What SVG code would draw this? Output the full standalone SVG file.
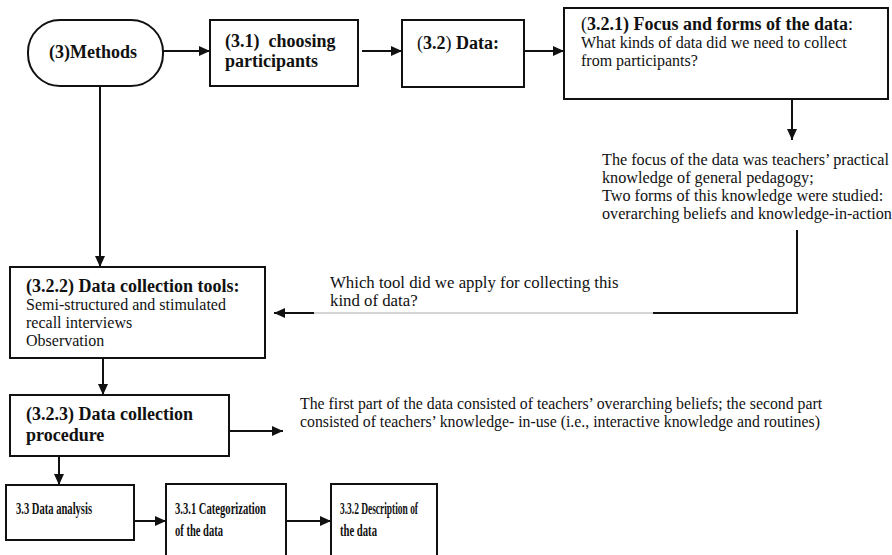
<svg xmlns="http://www.w3.org/2000/svg" width="892" height="555" viewBox="0 0 892 555">
<defs>
<marker id="ah" markerWidth="11" markerHeight="10" refX="11" refY="5" orient="auto" markerUnits="userSpaceOnUse">
<path d="M0,0 L11,5 L0,10 Z" fill="#111"/>
</marker>
<style>
.box{fill:#fff;stroke:#111;stroke-width:2}
.b{font-weight:bold;font-size:18px;fill:#111}
.r{font-size:16px;fill:#111}
.c{font-weight:bold;font-size:17px;fill:#111}
.ln{stroke:#111;stroke-width:2;fill:none}
.thin{stroke:#aaa;stroke-width:1;fill:none}
</style>
</defs>
<rect width="892" height="555" fill="#fff"/>
<g id="connectors">
<line class="ln" x1="163" y1="51" x2="210" y2="51" marker-end="url(#ah)"/>
<line class="ln" x1="362" y1="51" x2="402" y2="51" marker-end="url(#ah)"/>
<line class="ln" x1="524" y1="51" x2="564" y2="51" marker-end="url(#ah)"/>
<line class="ln" x1="792" y1="99" x2="792" y2="140" marker-end="url(#ah)"/>
<polyline class="ln" points="797,230 797,313 653,313"/>
<line class="thin" x1="653" y1="313" x2="314" y2="313"/>
<line class="ln" x1="314" y1="313" x2="274" y2="313" marker-end="url(#ah)"/>
<line class="ln" x1="100" y1="86" x2="100" y2="267" marker-end="url(#ah)"/>
<line class="ln" x1="103" y1="358" x2="103" y2="395" marker-end="url(#ah)"/>
<line class="ln" x1="229" y1="431" x2="283" y2="431" marker-end="url(#ah)"/>
<line class="ln" x1="59" y1="456" x2="59" y2="485" marker-end="url(#ah)"/>
<line class="ln" x1="134" y1="521" x2="166" y2="521" marker-end="url(#ah)"/>
<line class="ln" x1="287" y1="521" x2="331" y2="521" marker-end="url(#ah)"/>
</g>
<g id="n_methods">
<rect class="box" x="28" y="20" width="135" height="66" rx="32" ry="32"/>
<text class="b" font-family="'Liberation Serif', serif" x="49" y="58">(3)Methods</text>
</g>
<g id="n_31">
<rect class="box" x="210" y="20" width="148" height="66"/>
<text class="b" font-family="'Liberation Serif', serif" x="225" y="47" xml:space="preserve">(3.1)  choosing</text>
<text class="b" font-family="'Liberation Serif', serif" x="225" y="67">participants</text>
</g>
<g id="n_32">
<rect class="box" x="402" y="20" width="122" height="67"/>
<text class="b" font-family="'Liberation Serif', serif" x="417" y="49"><tspan font-weight="normal">(</tspan>3.2<tspan font-weight="normal">)</tspan> Data:</text>
</g>
<g id="n_321">
<rect class="box" x="564" y="8" width="324" height="91"/>
<text class="b" font-family="'Liberation Serif', serif" x="581" y="30"><tspan font-weight="normal">(</tspan>3.2.1) Focus and forms of the data<tspan font-weight="normal">:</tspan></text>
<text class="r" font-family="'Liberation Serif', serif" x="581" y="48">What kinds of data did we need to collect</text>
<text class="r" font-family="'Liberation Serif', serif" x="581" y="66">from participants?</text>
</g>
<g id="n_focus">
<text class="r" font-family="'Liberation Serif', serif" style="font-size:16.2px" x="602" y="165">The focus of the data was teachers’ practical</text>
<text class="r" font-family="'Liberation Serif', serif" style="font-size:16.2px" x="602" y="183">knowledge of general pedagogy;</text>
<text class="r" font-family="'Liberation Serif', serif" style="font-size:16.2px" x="602" y="201">Two forms of this knowledge were studied:</text>
<text class="r" font-family="'Liberation Serif', serif" style="font-size:16.2px" x="602" y="219">overarching beliefs and knowledge-in-action</text>
</g>
<g id="n_which">
<text class="r" font-family="'Liberation Serif', serif" style="font-size:16.8px" x="330" y="288">Which tool did we apply for collecting this</text>
<text class="r" font-family="'Liberation Serif', serif" style="font-size:16.8px" x="330" y="306">kind of data?</text>
</g>
<g id="n_322">
<rect class="box" x="10" y="267" width="255" height="91"/>
<text class="b" font-family="'Liberation Serif', serif" x="26" y="292">(3.2.2) Data collection tools:</text>
<text class="r" font-family="'Liberation Serif', serif" x="26" y="310">Semi-structured and stimulated</text>
<text class="r" font-family="'Liberation Serif', serif" x="26" y="328">recall interviews</text>
<text class="r" font-family="'Liberation Serif', serif" x="26" y="346">Observation</text>
</g>
<g id="n_323">
<rect class="box" x="10" y="395" width="219" height="61"/>
<text class="b" font-family="'Liberation Serif', serif" x="26" y="420">(3.2.3) Data collection</text>
<text class="b" font-family="'Liberation Serif', serif" x="26" y="441">procedure</text>
</g>
<g id="n_first">
<text class="r" font-family="'Liberation Serif', serif" style="font-size:15.8px" x="300" y="409">The first part of the data consisted of teachers’ overarching beliefs; the second part</text>
<text class="r" font-family="'Liberation Serif', serif" style="font-size:15.8px" x="300" y="427">consisted of teachers’ knowledge- in-use (i.e., interactive knowledge and routines)</text>
</g>
<g id="n_33">
<rect class="box" x="6" y="485" width="128" height="55"/>
<text class="c" font-family="'Liberation Serif', serif" x="16" y="514" textLength="76" lengthAdjust="spacingAndGlyphs">3.3 Data analysis</text>
</g>
<g id="n_331">
<rect class="box" x="166" y="484" width="120" height="80"/>
<text class="c" font-family="'Liberation Serif', serif" x="175" y="514" textLength="91" lengthAdjust="spacingAndGlyphs">3.3.1 Categorization</text>
<text class="c" font-family="'Liberation Serif', serif" x="175" y="536" textLength="48" lengthAdjust="spacingAndGlyphs">of the data</text>
</g>
<g id="n_332">
<rect class="box" x="331" y="484" width="106" height="80"/>
<text class="c" font-family="'Liberation Serif', serif" x="340" y="514" textLength="78" lengthAdjust="spacingAndGlyphs">3.3.2 Description of</text>
<text class="c" font-family="'Liberation Serif', serif" x="340" y="536" textLength="37" lengthAdjust="spacingAndGlyphs">the data</text>
</g>
</svg>
